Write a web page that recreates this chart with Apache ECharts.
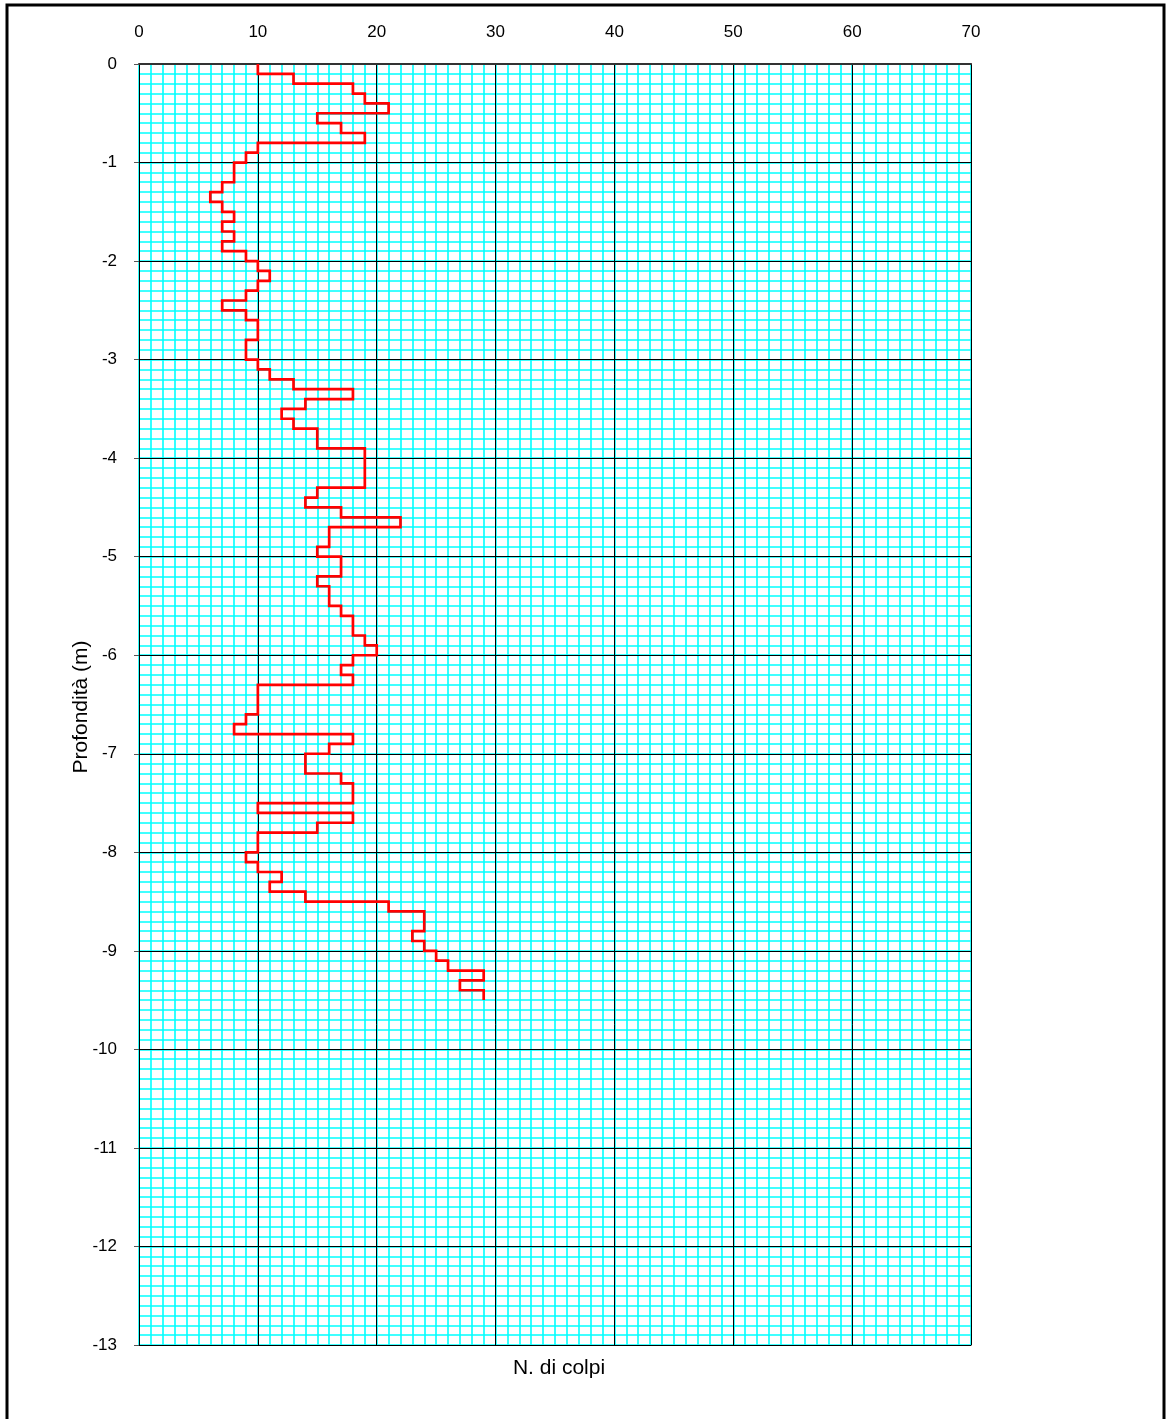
<!DOCTYPE html>
<html>
<head>
<meta charset="utf-8">
<style>
  html, body { margin: 0; padding: 0; background: #fff; }
  #chart { width: 1168px; height: 1419px; }
</style>
<script src="https://cdn.jsdelivr.net/npm/echarts@6/dist/echarts.min.js"></script>
</head>
<body>
<div id="chart"></div>
<script>
// Blow counts per 10 cm interval, from 0.0 m down to -9.5 m
const blows = [
  10, 13, 18, 19, 21, 15, 17, 19, 10, 9,
  8, 8, 7, 6, 7, 8, 7, 8, 7, 9,
  10, 11, 10, 9, 7, 9, 10, 10, 9, 9,
  10, 11, 13, 18, 14, 12, 13, 15, 15, 19,
  19, 19, 19, 15, 14, 17, 22, 16, 16, 15,
  17, 17, 15, 16, 16, 17, 18, 18, 19, 20,
  18, 17, 18, 10, 10, 10, 9, 8, 18, 16,
  14, 14, 17, 18, 18, 10, 18, 15, 10, 10,
  9, 10, 12, 11, 14, 21, 24, 24, 23, 24,
  25, 26, 29, 27, 29
];
const intervalStep = 0.1;   // m per reading
const startDepth = 0;
const xMin = 0, xMax = 70, xMajor = 10, xMinor = 1;
const yMin = -13, yMax = 0, yMajor = 1, yMinor = 0.1;
const xTitle = 'N. di colpi';
const yTitle = 'Profondità (m)';

// Build step path (value, depth) from the readings
const path = [];
blows.forEach((v, i) => {
  const top = +(startDepth - i * intervalStep).toFixed(2);
  const bot = +(startDepth - (i + 1) * intervalStep).toFixed(2);
  path.push([v, top]);
  path.push([v, bot]);
});

const chart = echarts.init(document.getElementById('chart'), null, { renderer: 'canvas' });
const font = 'Liberation Sans, Arial, sans-serif';
const hidden = { axisLine: { show: false }, axisTick: { show: false }, axisLabel: { show: false } };
const minorStyle = { color: '#00ffff', width: 1.6 };
const majorStyle = { color: '#000', width: 1 };

function gridAxis(extra) {
  return Object.assign({ type: 'value' }, hidden, extra);
}

chart.setOption({
  animation: false,
  backgroundColor: '#fff',
  grid: { show: false, left: 139, top: 64, width: 832, height: 1281 },
  xAxis: [
    {
      type: 'value', position: 'top',
      min: xMin, max: xMax, interval: xMajor,
      axisLine: { show: true, lineStyle: { color: '#333', width: 2 } },
      axisTick: { show: false },
      axisLabel: { fontSize: 17, color: '#000', fontFamily: font, margin: 23 },
      splitLine: { show: false },
      z: 5
    },
    gridAxis({ position: 'bottom', min: xMin, max: xMax, interval: xMinor,
      splitLine: { show: true, lineStyle: minorStyle }, z: 1 }),
    gridAxis({ position: 'bottom', min: xMin, max: xMax, interval: xMajor,
      axisLine: { show: true, lineStyle: majorStyle },
      splitLine: { show: true, lineStyle: majorStyle }, z: 3 })
  ],
  yAxis: [
    {
      type: 'value', position: 'left',
      min: yMin, max: yMax, interval: yMajor,
      axisLine: { show: true, onZero: false, lineStyle: majorStyle },
      axisTick: { show: true, length: 5, lineStyle: { color: '#555' } },
      axisLabel: { fontSize: 17, color: '#000', fontFamily: font, margin: 22 },
      splitLine: { show: false },
      z: 5
    },
    gridAxis({ position: 'right', min: yMin, max: yMax, interval: yMinor,
      splitLine: { show: true, lineStyle: minorStyle }, z: 1 }),
    gridAxis({ position: 'right', min: yMin, max: yMax, interval: yMajor,
      axisLine: { show: true, onZero: false, lineStyle: majorStyle },
      splitLine: { show: true, lineStyle: majorStyle }, z: 3 })
  ],
  series: [{
    type: 'line',
    xAxisIndex: 0, yAxisIndex: 0,
    data: path,
    showSymbol: false, symbol: 'none',
    lineStyle: { color: '#ff0000', width: 2.7, join: 'miter' },
    itemStyle: { color: '#ff0000' },
    z: 10
  }],
  graphic: [
    {
      type: 'rect', silent: true, z: 100,
      shape: { x: 7, y: 5, width: 1157, height: 1440 },
      style: { fill: 'none', stroke: '#000', lineWidth: 3 }
    },
    {
      type: 'text', silent: true, z: 100,
      x: 559, y: 1368,
      style: { text: xTitle, fontSize: 21, fill: '#000', fontFamily: font, align: 'center', verticalAlign: 'middle' }
    },
    {
      type: 'text', silent: true, z: 100,
      x: 81, y: 707, rotation: Math.PI / 2,
      style: { text: yTitle, fontSize: 21, fill: '#000', fontFamily: font, align: 'center', verticalAlign: 'middle' }
    }
  ]
});
</script>
</body>
</html>
